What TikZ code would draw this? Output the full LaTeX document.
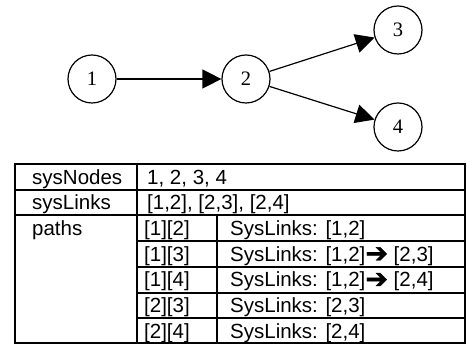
\documentclass[tikz,border=0pt]{standalone}
\usepackage{fontspec}
\setmainfont{Liberation Sans}
\newfontfamily\nodefont{Liberation Serif}
\newfontfamily\arrowfont{DejaVu Sans}[FakeBold=1.5]
\newcommand{\pathstep}{\raisebox{-1pt}{\arrowfont\fontsize{27}{24}\selectfont ➔}}
\usetikzlibrary{arrows.meta}

\begin{document}
\begin{tikzpicture}[x=1pt,y=-1pt,
    vertex/.style={draw,circle,line width=1.2pt,minimum size=48pt,inner sep=0pt,
      font=\nodefont\fontsize{20.5}{24}\selectfont},
    link/.style={line width=1.2pt,-{Triangle[length=19pt,width=19pt]}},
    cell/.style={anchor=base west,inner sep=0pt,font=\fontsize{20.5}{24}\selectfont},
    rule/.style={line width=2pt}]
        \useasboundingbox (0,0) rectangle (467,344);

        % graph
        \node[vertex] (n1) at (92,79) {1};
        \node[vertex] (n2) at (246,79) {2};
        \node[vertex] (n3) at (398,30) {3};
        \node[vertex] (n4) at (398,127) {4};

        \draw[link] (n1) -- (n2);
        \draw[link] (n2) -- (n3);
        \draw[link] (n2) -- (n4);

        % table
        \draw[rule] (15,164) rectangle (465,343);
        \draw[rule] (137,164) -- (137,343);
        \draw[rule] (217,215.4) -- (217,343);
        \draw[rule] (15,189.7) -- (465,189.7);
        \draw[rule] (15,215.4) -- (465,215.4);
        \foreach \y in {241.1,266.9,292.6,318.3}
            \draw[rule] (137,\y) -- (465,\y);

        \node[cell] (nodesKey) at (32,184.3) {sysNodes};
        \node[cell] (nodesVal) at (147,184.3) {1, 2, 3, 4};
        \node[cell] (linksKey) at (32,210) {sysLinks};
        \node[cell] (linksVal) at (147,210) {[1,2], [2,3], [2,4]};
        \node[cell] (pathsKey) at (32,235.6) {paths};

        \node[cell] (p12) at (144,235.6) {[1][2]};
        \node[cell] (p13) at (144,261.3) {[1][3]};
        \node[cell] (p14) at (144,287) {[1][4]};
        \node[cell] (p23) at (144,312.7) {[2][3]};
        \node[cell] (p24) at (144,338.4) {[2][4]};

        \node[cell] (l12) at (230,235.6) {SysLinks: [1,2]};
        \node[cell] (l13) at (230,261.3) {SysLinks: [1,2]\pathstep\ [2,3]};
        \node[cell] (l14) at (230,287) {SysLinks: [1,2]\pathstep\ [2,4]};
        \node[cell] (l23) at (230,312.7) {SysLinks: [2,3]};
        \node[cell] (l24) at (230,338.4) {SysLinks: [2,4]};

    \end{tikzpicture}
\end{document}
